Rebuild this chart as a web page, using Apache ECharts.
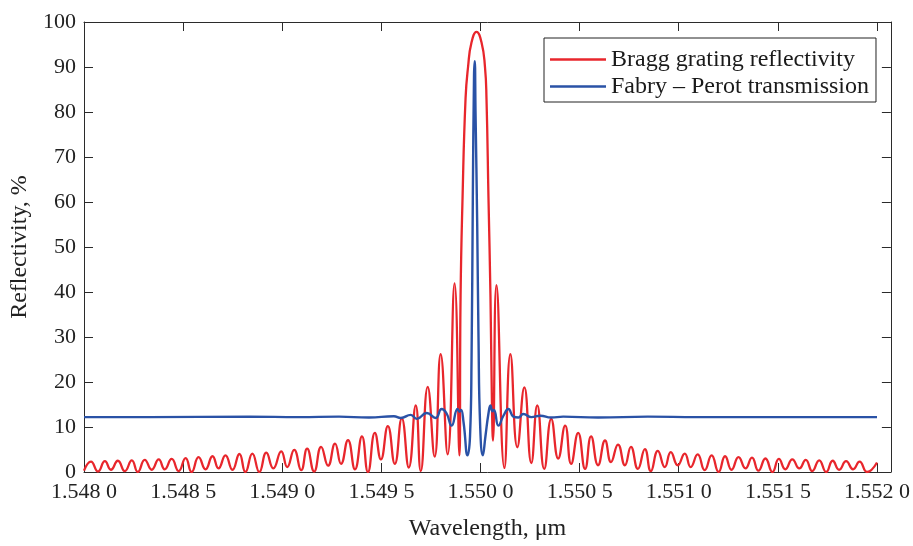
<!DOCTYPE html>
<html>
<head>
<meta charset="utf-8">
<script src="https://cdn.jsdelivr.net/npm/echarts@6/dist/echarts.min.js"></script>
<style>
html,body{margin:0;padding:0;background:#fff;}
#c{width:913px;height:546px;}
</style>
</head>
<body>
<div id="c"></div>
<script>
// Bragg grating reflectivity: wavelength (µm) and reflectivity (%)
const braggWavelength = [
1.5480000,1.5480352,1.5480704,1.5481055,1.5481357,1.5481709,1.5482060,1.5482412,1.5482714,1.5483065,
1.5483417,1.5483769,1.5484070,1.5484422,1.5484774,1.5485126,1.5485427,1.5485779,1.5486131,1.5486482,
1.5486784,1.5487136,1.5487487,1.5487839,1.5488141,1.5488492,1.5488844,1.5489196,1.5489548,1.5489950,
1.5490251,1.5490603,1.5490955,1.5491256,1.5491608,1.5491960,1.5492312,1.5492663,1.5492965,1.5493317,
1.5493668,1.5494020,1.5494322,1.5494673,1.5494975,1.5495327,1.5495678,1.5496030,1.5496382,1.5496734,
1.5496985,1.5497337,1.5497688,1.5497990,1.5498342,1.5498693,1.5498935,1.5498995,1.5499095,1.5499246,
1.5499372,1.5499548,1.5499799,1.5500050,1.5500226,1.5500302,1.5500402,1.5500503,1.5500578,1.5500628,
1.5500804,1.5501206,1.5501508,1.5501859,1.5502211,1.5502563,1.5502864,1.5503216,1.5503568,1.5503920,
1.5504271,1.5504573,1.5504925,1.5505276,1.5505578,1.5505930,1.5506281,1.5506583,1.5506935,1.5507286,
1.5507588,1.5507940,1.5508291,1.5508593,1.5508945,1.5509296,1.5509598,1.5509950,1.5510302,1.5510603,
1.5510955,1.5511307,1.5511658,1.5512010,1.5512337,1.5512663,1.5513015,1.5513367,1.5513693,1.5514020,
1.5514372,1.5514724,1.5515050,1.5515377,1.5515729,1.5516080,1.5516407,1.5516734,1.5517085,1.5517437,
1.5517764,1.5518090,1.5518442,1.5518794,1.5519121,1.5519497,1.5520000
];
const braggReflectivity = [
0.3,2.3,0.1,2.4,0.5,2.5,0.2,2.6,0.0,2.7,
0.5,2.8,0.6,2.9,0.2,3.1,0.0,3.3,0.6,3.5,
0.8,3.7,0.5,4.0,0.0,4.1,0.0,4.3,0.8,4.6,
1.1,4.9,0.4,5.2,0.1,5.6,1.4,6.3,1.8,7.1,
0.6,7.9,0.0,8.7,2.8,10.2,1.8,11.9,1.0,14.8,
0.2,18.9,3.4,26.2,3.9,41.9,3.7,39,61,83,
90,95.5,97.8,95.5,90,83,61,39,15,7,
41.5,0.9,26.2,5.5,18.8,2.0,14.8,0.7,11.8,3.0,
10.3,1.8,8.7,0.7,7.9,1.5,7.0,2.2,6.1,1.5,
5.6,0.7,5.1,0.2,4.7,1.1,4.4,1.5,4.1,1.1,
3.9,0.4,3.7,0.0,3.5,0.5,3.3,0.8,3.2,0.3,
3.0,0.0,2.9,0.6,2.8,0.8,2.7,0.2,2.6,0.0,
2.5,0.5,2.4,0.6,2.3,0.0,2.1
];
// Fabry-Perot transmission
const fpWavelength = [
1.5480000,1.5483317,1.5488342,1.5490854,1.5492864,1.5494372,1.5495628,1.5495980,1.5496482,1.5496784,
1.5497286,1.5497739,1.5498040,1.5498291,1.5498543,1.5498844,1.5498945,1.5499020,1.5499146,1.5499347,
1.5499472,1.5499548,1.5499613,1.5499673,1.5499709,1.5499749,1.5499834,1.5499899,1.5499985,1.5500116,
1.5500251,1.5500402,1.5500503,1.5500603,1.5500678,1.5500905,1.5501156,1.5501407,1.5501658,1.5501910,
1.5502161,1.5502563,1.5503015,1.5503568,1.5504171,1.5505930,1.5508442,1.5510955,1.5515980,1.5520000
];
const fpTransmission = [
12.2,12.2,12.3,12.2,12.3,12.1,12.4,12.0,12.7,11.8,
13.1,12.0,14.0,13.0,10.3,14.0,13.4,13.8,11.0,3.7,
8.0,25,61,88,91.3,80,55,30,10,3.7,
8.0,13.0,14.8,13.5,13.8,10.3,12.5,14.0,12.3,12.1,
12.9,12.2,12.5,12.1,12.3,12.1,12.3,12.2,12.2,12.2
];
const seriesNames = ['Bragg grating reflectivity', 'Fabry \u2013 Perot transmission'];
const xTitle = 'Wavelength, \u03bcm';
const yTitle = 'Reflectivity, %';

const FONT = '"Liberation Serif", "DejaVu Serif", serif';
const AX = '#2b2b2b';
const FS = 24;   // titles and legend
const TFS = 22;  // tick labels

function zip(a, b) { return a.map((v, i) => [v, b[i]]); }
function fmtX(v) {
  if (Math.abs(Math.round(v / 0.0005) * 0.0005 - v) > 1e-9) return '';
  const s = v.toFixed(4);
  return s.slice(0, 5) + ' ' + s.slice(5);
}

const chart = echarts.init(document.getElementById('c'), null, { renderer: 'canvas' });
const xBase = { type: 'value', min: 1.548, max: 1.55207, interval: 0.0005, gridIndex: 0,
  splitLine: { show: false },
  axisLine: { show: true, onZero: false, lineStyle: { color: AX, width: 1 } },
  axisTick: { show: true, inside: true, length: 9, lineStyle: { color: AX, width: 1 } } };
const yBase = { type: 'value', min: 0, max: 100, interval: 10, gridIndex: 0,
  splitLine: { show: false },
  axisLine: { show: true, onZero: false, lineStyle: { color: AX, width: 1 } },
  axisTick: { show: true, inside: true, length: 9, lineStyle: { color: AX, width: 1 } } };

chart.setOption({
  animation: false,
  backgroundColor: '#fff',
  grid: { left: 84, right: 18, top: 22, bottom: 66, containLabel: false },
  legend: {
    orient: 'vertical', left: 544, top: 38,
    data: seriesNames,
    icon: 'rect',
    itemWidth: 56, itemHeight: 2.5, itemGap: 0,
    padding: [8, 7, 2, 6],
    backgroundColor: '#fff', borderColor: '#222', borderWidth: 1,
    textStyle: { fontFamily: FONT, fontSize: FS, color: '#1a1a1a', lineHeight: 27 }
  },
  xAxis: [
    Object.assign({}, xBase, { position: 'bottom',
      axisLabel: { formatter: fmtX, showMaxLabel: false, fontFamily: FONT, fontSize: TFS, color: '#222', margin: 9 },
      name: xTitle, nameLocation: 'middle', nameGap: 45,
      nameTextStyle: { fontFamily: FONT, fontSize: FS, color: '#222' } }),
    Object.assign({}, xBase, { position: 'top', axisLabel: { show: false } })
  ],
  yAxis: [
    Object.assign({}, yBase, { position: 'left',
      axisLabel: { fontFamily: FONT, fontSize: TFS, color: '#222', margin: 8 },
      name: yTitle, nameLocation: 'middle', nameGap: 52,
      nameTextStyle: { fontFamily: FONT, fontSize: FS, color: '#222' } }),
    Object.assign({}, yBase, { position: 'right', axisLabel: { show: false } })
  ],
  series: [
    { name: seriesNames[0], type: 'line', xAxisIndex: 0, yAxisIndex: 0,
      data: zip(braggWavelength, braggReflectivity),
      showSymbol: false, symbol: 'none', smooth: true,
      color: '#e8262c', lineStyle: { color: '#e8262c', width: 2.3 } },
    { name: seriesNames[1], type: 'line', xAxisIndex: 0, yAxisIndex: 0,
      data: zip(fpWavelength, fpTransmission),
      showSymbol: false, symbol: 'none', smooth: true,
      color: '#2a52a6', lineStyle: { color: '#2a52a6', width: 2.4 } }
  ]
});
</script>
</body>
</html>
